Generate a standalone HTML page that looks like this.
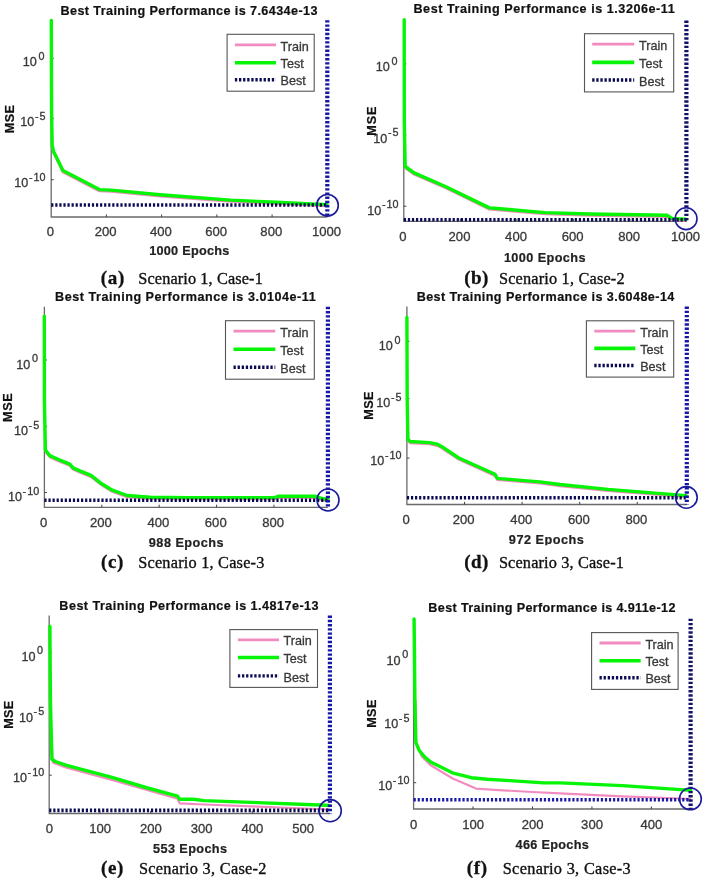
<!DOCTYPE html>
<html><head><meta charset="utf-8"><title>Training Performance</title>
<style>
html,body{margin:0;padding:0;background:#fff;}
body{width:707px;height:878px;overflow:hidden;}
svg{display:block;filter:blur(0.5px);}
text{font-family:"Liberation Sans", sans-serif;}
.ti{font-size:12.6px;font-weight:bold;fill:#111;stroke:#111;stroke-width:0.2px;}
.xt{font-size:13.1px;fill:#383838;stroke:#383838;stroke-width:0.3px;text-anchor:middle;}
.yt{font-size:12.6px;fill:#383838;stroke:#383838;stroke-width:0.3px;text-anchor:end;}
.sup{font-size:10.8px;}
.ml{font-size:12.7px;font-weight:bold;fill:#111;stroke:#111;stroke-width:0.2px;}
.xl{font-size:12.7px;font-weight:bold;fill:#222;stroke:#222;stroke-width:0.2px;}
.lt{font-size:12.6px;fill:#383838;stroke:#383838;stroke-width:0.3px;}
.cl{font-family:"Liberation Serif", serif;font-size:19.0px;font-weight:bold;fill:#111;stroke:#111;stroke-width:0.3px;}
.ct{font-family:"Liberation Serif", serif;font-size:16.3px;fill:#111;stroke:#111;stroke-width:0.35px;}
.ax{fill:none;stroke:#6a6a6a;stroke-width:1.3;}
.tk{fill:none;stroke:#444;stroke-width:1;}
.gr{fill:none;stroke:#06f406;stroke-width:3.4;stroke-linejoin:round;stroke-linecap:round;}
.pk{fill:none;stroke:#f28cc0;stroke-width:2.2;stroke-linejoin:round;}
.bh{fill:none;stroke:#0a0a52;stroke-width:3.6;stroke-dasharray:2.2 1.87;}
.bv{fill:none;stroke:#1616a8;stroke-width:4.2;stroke-dasharray:2.4 1.8;}
.ci{fill:none;stroke:#1a1a9a;stroke-width:1.6;}
.lg{fill:#fff;stroke:#555;stroke-width:1.1;}
.lpk{fill:none;stroke:#f28cc0;stroke-width:2.8;}
.lgr{fill:none;stroke:#06f406;stroke-width:3.6;}
.lbh{fill:none;stroke:#0a0a52;stroke-width:3.4;stroke-dasharray:2.3 1.8;}
</style></head>
<body><svg width="707" height="878" viewBox="0 0 707 878">
<rect width="707" height="878" fill="#fff"/>
<g id="pa">
<text x="60.46" y="15.3" class="ti" textLength="257" lengthAdjust="spacing">Best Training Performance is 7.6434e-13</text>
<path d="M51.2,20.2V217H327.3" class="ax"/>
<text x="50.4" y="235.75" class="xt">0</text>
<path d="M106.42,217v-2.6" class="tk"/>
<text x="105.62" y="235.75" class="xt">200</text>
<path d="M161.64,217v-2.6" class="tk"/>
<text x="160.84" y="235.75" class="xt">400</text>
<path d="M216.86,217v-2.6" class="tk"/>
<text x="216.06" y="235.75" class="xt">600</text>
<path d="M272.08,217v-2.6" class="tk"/>
<text x="271.28" y="235.75" class="xt">800</text>
<path d="M327.3,217v-2.6" class="tk"/>
<text x="326.5" y="235.75" class="xt">1000</text>
<path d="M51.2,58.3h2.6" class="tk"/>
<text x="44.4" y="65.9" class="yt">10<tspan class="sup"><tspan dx="1.6" dy="-6.4">0</tspan></tspan></text>
<path d="M51.2,118.3h2.6" class="tk"/>
<text x="45.6" y="125.9" class="yt">10<tspan class="sup"><tspan dx="0.5" dy="-6.4">-</tspan><tspan dx="1.1">5</tspan></tspan></text>
<path d="M51.2,179.7h2.6" class="tk"/>
<text x="45.6" y="187.2" class="yt">10<tspan class="sup"><tspan dx="0.5" dy="-6.4">-</tspan><tspan dx="1.1">10</tspan></tspan></text>
<text transform="translate(14.1,133.35) rotate(-90)" class="ml" textLength="28.35" lengthAdjust="spacing">MSE</text>
<polyline points="52.2,147.1 53.6,153 62.9,172.2 99.4,191.2 111.3,191.7 160,196.3 230.6,201.7 276.3,203.9 316.7,205.7 327,206.2" class="pk"/>
<polyline points="51.3,20.5 51.6,112 52.2,145.5 53.6,151.4 62.9,170.6 99.4,189.6 111.3,190.1 160,194.7 230.6,200.1 276.3,202.3 316.7,204.1 327,204.6" class="gr"/>
<path d="M51.2,205H327.3" class="bh" style="stroke:#0a0a52"/>
<path d="M327.3,20.2V217" class="bv" style="stroke:#1616a8"/>
<circle cx="327.5" cy="205.3" r="10.8" class="ci"/>
<rect x="227.1" y="34.3" width="87.1" height="56.9" class="lg"/>
<path d="M234.9,44.9H276" class="lpk"/>
<path d="M234.9,62.7H276" class="lgr"/>
<path d="M234.9,79.8H276" class="lbh"/>
<text x="280.6" y="50.5" class="lt">Train</text>
<text x="280.6" y="68.3" class="lt">Test</text>
<text x="280.6" y="85.4" class="lt">Best</text>
<text x="149.2" y="255.4" class="xl" textLength="80.12" lengthAdjust="spacing">1000 Epochs</text>
<text x="100.87" y="283.6" class="cl" textLength="23.37" lengthAdjust="spacing">(a)</text>
<text x="138.31" y="283.6" class="ct" textLength="124.47" lengthAdjust="spacing">Scenario 1, Case-1</text>
</g>
<g id="pb">
<text x="413.46" y="13.2" class="ti" textLength="261.19" lengthAdjust="spacing">Best Training Performance is 1.3206e-11</text>
<path d="M403.8,20.5V221.3H686.4" class="ax"/>
<text x="403" y="241.45" class="xt">0</text>
<path d="M460.32,221.3v-2.6" class="tk"/>
<text x="459.52" y="241.45" class="xt">200</text>
<path d="M516.84,221.3v-2.6" class="tk"/>
<text x="516.04" y="241.45" class="xt">400</text>
<path d="M573.36,221.3v-2.6" class="tk"/>
<text x="572.56" y="241.45" class="xt">600</text>
<path d="M629.88,221.3v-2.6" class="tk"/>
<text x="629.08" y="241.45" class="xt">800</text>
<path d="M686.4,221.3v-2.6" class="tk"/>
<text x="685.6" y="241.45" class="xt">1000</text>
<path d="M403.8,63.8h2.6" class="tk"/>
<text x="397.4" y="71.3" class="yt">10<tspan class="sup"><tspan dx="1.6" dy="-6.4">0</tspan></tspan></text>
<path d="M403.8,135h2.6" class="tk"/>
<text x="398.6" y="142.5" class="yt">10<tspan class="sup"><tspan dx="0.5" dy="-6.4">-</tspan><tspan dx="1.1">5</tspan></tspan></text>
<path d="M403.8,206.2h2.6" class="tk"/>
<text x="398.6" y="214.5" class="yt">10<tspan class="sup"><tspan dx="0.5" dy="-6.4">-</tspan><tspan dx="1.1">10</tspan></tspan></text>
<text transform="translate(375.5,135.75) rotate(-90)" class="ml" textLength="29.35" lengthAdjust="spacing">MSE</text>
<polyline points="405.2,168.1 414.1,174.5 445.9,188.3 489.4,209.5 494.7,209.9 545,214.2 590,215.6 667,216.8 672,220 686,220.8" class="pk"/>
<polyline points="404.2,19.8 404.3,122.9 405.2,166.5 414.1,172.9 445.9,186.7 489.4,207.9 494.7,208.3 545,212.6 590,214 667,215.2 672,218.4 686,219.2" class="gr"/>
<path d="M403.8,219.8H686.4" class="bh" style="stroke:#0a0a52"/>
<path d="M686.4,20.5V221.3" class="bv" style="stroke:#12126a"/>
<circle cx="686.1" cy="218.7" r="10.9" class="ci"/>
<rect x="584.5" y="33.7" width="89.2" height="58.2" class="lg"/>
<path d="M592.2,44.1H634.2" class="lpk"/>
<path d="M592.2,62.4H634.2" class="lgr"/>
<path d="M592.2,80H634.2" class="lbh"/>
<text x="639.1" y="49.7" class="lt">Train</text>
<text x="639.1" y="68" class="lt">Test</text>
<text x="639.1" y="85.6" class="lt">Best</text>
<text x="503.9" y="261.5" class="xl" textLength="81.62" lengthAdjust="spacing">1000 Epochs</text>
<text x="464.37" y="283.7" class="cl" textLength="24.07" lengthAdjust="spacing">(b)</text>
<text x="498.91" y="283.7" class="ct" textLength="125.69" lengthAdjust="spacing">Scenario 1, Case-2</text>
</g>
<g id="pc">
<text x="55.06" y="301.1" class="ti" textLength="260.59" lengthAdjust="spacing">Best Training Performance is 3.0104e-11</text>
<path d="M44.4,306.8V507.3H327.9" class="ax"/>
<text x="43.6" y="526.95" class="xt">0</text>
<path d="M101.79,507.3v-2.6" class="tk"/>
<text x="100.99" y="526.95" class="xt">200</text>
<path d="M159.18,507.3v-2.6" class="tk"/>
<text x="158.38" y="526.95" class="xt">400</text>
<path d="M216.57,507.3v-2.6" class="tk"/>
<text x="215.77" y="526.95" class="xt">600</text>
<path d="M273.95,507.3v-2.6" class="tk"/>
<text x="273.15" y="526.95" class="xt">800</text>
<path d="M44.4,360h2.6" class="tk"/>
<text x="38" y="368.5" class="yt">10<tspan class="sup"><tspan dx="1.6" dy="-6.4">0</tspan></tspan></text>
<path d="M44.4,426.5h2.6" class="tk"/>
<text x="39.2" y="435" class="yt">10<tspan class="sup"><tspan dx="0.5" dy="-6.4">-</tspan><tspan dx="1.1">5</tspan></tspan></text>
<path d="M44.4,492.5h2.6" class="tk"/>
<text x="39.2" y="501.4" class="yt">10<tspan class="sup"><tspan dx="0.5" dy="-6.4">-</tspan><tspan dx="1.1">10</tspan></tspan></text>
<text transform="translate(11.9,422.05) rotate(-90)" class="ml" textLength="28.85" lengthAdjust="spacing">MSE</text>
<polyline points="45.4,451.5 49.7,457.2 59.2,461.4 69.8,465.7 73,469.5 80.4,472.7 91,476.9 101.7,485.4 112.3,491.8 127.1,497.1 150,498.9 188,499.2 275,499.2 278,497.9 315.7,497.9 322,500.1 328,501.1" class="pk"/>
<polyline points="44.3,316.2 44.4,400 45.4,449.9 49.7,455.6 59.2,459.8 69.8,464.1 73,467.9 80.4,471.1 91,475.3 101.7,483.8 112.3,490.2 127.1,495.5 150,497.3 188,497.6 275,497.6 278,496.3 315.7,496.3 322,498.5 328,499.5" class="gr"/>
<path d="M44.4,500.2H327.9" class="bh" style="stroke:#0a0a52"/>
<path d="M327.9,306.8V507.3" class="bv" style="stroke:#1616a8"/>
<circle cx="328" cy="500" r="11" class="ci"/>
<rect x="225.5" y="320.7" width="88.8" height="58.5" class="lg"/>
<path d="M233.5,331.1H275.3" class="lpk"/>
<path d="M233.5,349.3H275.3" class="lgr"/>
<path d="M233.5,367.3H275.3" class="lbh"/>
<text x="280.3" y="336.7" class="lt">Train</text>
<text x="280.3" y="354.9" class="lt">Test</text>
<text x="280.3" y="372.9" class="lt">Best</text>
<text x="148.86" y="547" class="xl" textLength="74.66" lengthAdjust="spacing">988 Epochs</text>
<text x="101.07" y="567.7" class="cl" textLength="22.27" lengthAdjust="spacing">(c)</text>
<text x="138.21" y="567.7" class="ct" textLength="126.13" lengthAdjust="spacing">Scenario 1, Case-3</text>
</g>
<g id="pd">
<text x="416.66" y="301.3" class="ti" textLength="257.71" lengthAdjust="spacing">Best Training Performance is 3.6048e-14</text>
<path d="M406.9,306.5V504.5H686.8" class="ax"/>
<text x="406.1" y="524.05" class="xt">0</text>
<path d="M464.49,504.5v-2.6" class="tk"/>
<text x="463.69" y="524.05" class="xt">200</text>
<path d="M522.09,504.5v-2.6" class="tk"/>
<text x="521.29" y="524.05" class="xt">400</text>
<path d="M579.68,504.5v-2.6" class="tk"/>
<text x="578.88" y="524.05" class="xt">600</text>
<path d="M637.27,504.5v-2.6" class="tk"/>
<text x="636.47" y="524.05" class="xt">800</text>
<path d="M406.9,341.3h2.6" class="tk"/>
<text x="400.4" y="349.9" class="yt">10<tspan class="sup"><tspan dx="1.6" dy="-6.4">0</tspan></tspan></text>
<path d="M406.9,398.7h2.6" class="tk"/>
<text x="401.6" y="406.9" class="yt">10<tspan class="sup"><tspan dx="0.5" dy="-6.4">-</tspan><tspan dx="1.1">5</tspan></tspan></text>
<path d="M406.9,458.1h2.6" class="tk"/>
<text x="401.6" y="465.2" class="yt">10<tspan class="sup"><tspan dx="0.5" dy="-6.4">-</tspan><tspan dx="1.1">10</tspan></tspan></text>
<text transform="translate(372.7,419.85) rotate(-90)" class="ml" textLength="28.45" lengthAdjust="spacing">MSE</text>
<polyline points="407.9,440.8 410.2,443.1 429.4,444.2 437.3,445.8 441.9,448.3 458.8,459.6 495,475.9 497.3,480 540,483.5 560,486.1 607.9,491 671.2,496 686,497.2" class="pk"/>
<polyline points="406.9,317.4 407.2,400 407.9,439.2 410.2,441.5 429.4,442.6 437.3,444.2 441.9,446.7 458.8,458 495,474.3 497.3,478.4 540,481.9 560,484.5 607.9,489.4 671.2,494.4 686,495.6" class="gr"/>
<path d="M406.9,497.7H686.8" class="bh" style="stroke:#0a0a52"/>
<path d="M686.8,306.5V504.5" class="bv" style="stroke:#1616a8"/>
<circle cx="686.4" cy="497.4" r="10.8" class="ci"/>
<rect x="586.4" y="320.8" width="87.3" height="56.3" class="lg"/>
<path d="M594.3,331.2H635.3" class="lpk"/>
<path d="M594.3,348.4H635.3" class="lgr"/>
<path d="M594.3,365.5H635.3" class="lbh"/>
<text x="640.2" y="336.8" class="lt">Train</text>
<text x="640.2" y="354" class="lt">Test</text>
<text x="640.2" y="371.1" class="lt">Best</text>
<text x="508.86" y="543.7" class="xl" textLength="74.86" lengthAdjust="spacing">972 Epochs</text>
<text x="464.37" y="567.7" class="cl" textLength="24.07" lengthAdjust="spacing">(d)</text>
<text x="498.91" y="567.7" class="ct" textLength="124.97" lengthAdjust="spacing">Scenario 3, Case-1</text>
<rect x="505" y="545.3" width="85" height="2.6" fill="#fff"/>
</g>
<g id="pe">
<text x="59.36" y="610" class="ti" textLength="259.2" lengthAdjust="spacing">Best Training Performance is 1.4817e-13</text>
<path d="M49.2,615.6V813.5H329.9" class="ax"/>
<text x="49.4" y="832.85" class="xt">0</text>
<path d="M99.96,813.5v-2.6" class="tk"/>
<text x="100.16" y="832.85" class="xt">100</text>
<path d="M150.72,813.5v-2.6" class="tk"/>
<text x="150.92" y="832.85" class="xt">200</text>
<path d="M201.48,813.5v-2.6" class="tk"/>
<text x="201.68" y="832.85" class="xt">300</text>
<path d="M252.24,813.5v-2.6" class="tk"/>
<text x="252.44" y="832.85" class="xt">400</text>
<path d="M303,813.5v-2.6" class="tk"/>
<text x="303.2" y="832.85" class="xt">500</text>
<path d="M49.2,652.8h2.6" class="tk"/>
<text x="43.1" y="660.5" class="yt">10<tspan class="sup"><tspan dx="1.6" dy="-6.4">0</tspan></tspan></text>
<path d="M49.2,714.2h2.6" class="tk"/>
<text x="44.3" y="721.8" class="yt">10<tspan class="sup"><tspan dx="0.5" dy="-6.4">-</tspan><tspan dx="1.1">5</tspan></tspan></text>
<path d="M49.2,775.2h2.6" class="tk"/>
<text x="44.3" y="782.2" class="yt">10<tspan class="sup"><tspan dx="0.5" dy="-6.4">-</tspan><tspan dx="1.1">10</tspan></tspan></text>
<text transform="translate(12.8,728.85) rotate(-90)" class="ml" textLength="28.15" lengthAdjust="spacing">MSE</text>
<polyline points="51.9,745 52.5,760 53,762.6 66.6,767.6 111.9,780 177.5,798.8 179.7,803.3 204,804.5 257.9,806.7 316.7,809 329.5,809.6" class="pk"/>
<polyline points="49.9,626.3 50.4,700 51.9,759.2 55.3,761.5 66.6,765.3 111.9,777.3 145.8,787.5 177.5,796.1 179.7,799.3 193.3,799.3 204,800.6 257.9,802.6 325.7,805.3 329.5,805.6" class="gr"/>
<path d="M49.2,810.4H329.9" class="bh" style="stroke:#0a0a52"/>
<path d="M329.9,615.6V813.5" class="bv" style="stroke:#1616a8"/>
<circle cx="330.2" cy="810.7" r="11.1" class="ci"/>
<rect x="229.9" y="629.6" width="87.6" height="57.8" class="lg"/>
<path d="M237.9,639.8H279" class="lpk"/>
<path d="M237.9,657.5H279" class="lgr"/>
<path d="M237.9,675.9H279" class="lbh"/>
<text x="283.5" y="645.4" class="lt">Train</text>
<text x="283.5" y="663.1" class="lt">Test</text>
<text x="283.5" y="681.5" class="lt">Best</text>
<text x="153.11" y="853.4" class="xl" textLength="73.91" lengthAdjust="spacing">553 Epochs</text>
<text x="101.07" y="873.6" class="cl" textLength="22.27" lengthAdjust="spacing">(e)</text>
<text x="138.91" y="873.6" class="ct" textLength="127.49" lengthAdjust="spacing">Scenario 3, Case-2</text>
</g>
<g id="pf">
<text x="428.36" y="612.4" class="ti" textLength="247.05" lengthAdjust="spacing">Best Training Performance is 4.911e-12</text>
<path d="M413.6,618.7V809H690.6" class="ax"/>
<text x="413.7" y="828.75" class="xt">0</text>
<path d="M473.04,809v-2.6" class="tk"/>
<text x="473.14" y="828.75" class="xt">100</text>
<path d="M532.48,809v-2.6" class="tk"/>
<text x="532.58" y="828.75" class="xt">200</text>
<path d="M591.93,809v-2.6" class="tk"/>
<text x="592.03" y="828.75" class="xt">300</text>
<path d="M651.37,809v-2.6" class="tk"/>
<text x="651.47" y="828.75" class="xt">400</text>
<path d="M413.6,657h2.6" class="tk"/>
<text x="408.2" y="664.7" class="yt">10<tspan class="sup"><tspan dx="1.6" dy="-6.4">0</tspan></tspan></text>
<path d="M413.6,720.5h2.6" class="tk"/>
<text x="409.4" y="728.2" class="yt">10<tspan class="sup"><tspan dx="0.5" dy="-6.4">-</tspan><tspan dx="1.1">5</tspan></tspan></text>
<path d="M413.6,782.7h2.6" class="tk"/>
<text x="409.4" y="790.3" class="yt">10<tspan class="sup"><tspan dx="0.5" dy="-6.4">-</tspan><tspan dx="1.1">10</tspan></tspan></text>
<text transform="translate(375.6,727.85) rotate(-90)" class="ml" textLength="28.25" lengthAdjust="spacing">MSE</text>
<polyline points="415.5,700 415.9,742.6 419.3,750.5 421.6,756.2 430.6,765.2 441.9,772 453.2,778.8 469.1,785.6 475.9,788.6 498.5,790.1 532.4,792 560,793.3 622.4,796.4 680.6,798.5 690.5,799" class="pk"/>
<polyline points="414.1,619 414.9,700 415.9,742.6 419.3,750.5 425,757.3 430.6,761.9 441.9,767.5 453.2,773.2 471.3,777.7 487.2,779.3 509.8,780.6 543.7,782.9 560,782.9 622.4,785.6 680.6,789.6 690.5,790.2" class="gr"/>
<path d="M413.6,799.8H690.6" class="bh" style="stroke:#1a1aa6"/>
<path d="M690.6,618.7V809" class="bv" style="stroke:#12126a"/>
<circle cx="690.4" cy="798.9" r="10.9" class="ci"/>
<rect x="591.6" y="632.6" width="86.5" height="56.8" class="lg"/>
<path d="M599.5,643H640.7" class="lpk"/>
<path d="M599.5,660.7H640.7" class="lgr"/>
<path d="M599.5,677.7H640.7" class="lbh"/>
<text x="645.4" y="648.6" class="lt">Train</text>
<text x="645.4" y="666.3" class="lt">Test</text>
<text x="645.4" y="683.3" class="lt">Best</text>
<text x="515.61" y="849" class="xl" textLength="73.21" lengthAdjust="spacing">466 Epochs</text>
<text x="466.87" y="873.6" class="cl" textLength="20.27" lengthAdjust="spacing">(f)</text>
<text x="502.71" y="873.6" class="ct" textLength="128.03" lengthAdjust="spacing">Scenario 3, Case-3</text>
</g>
</svg></body></html>
